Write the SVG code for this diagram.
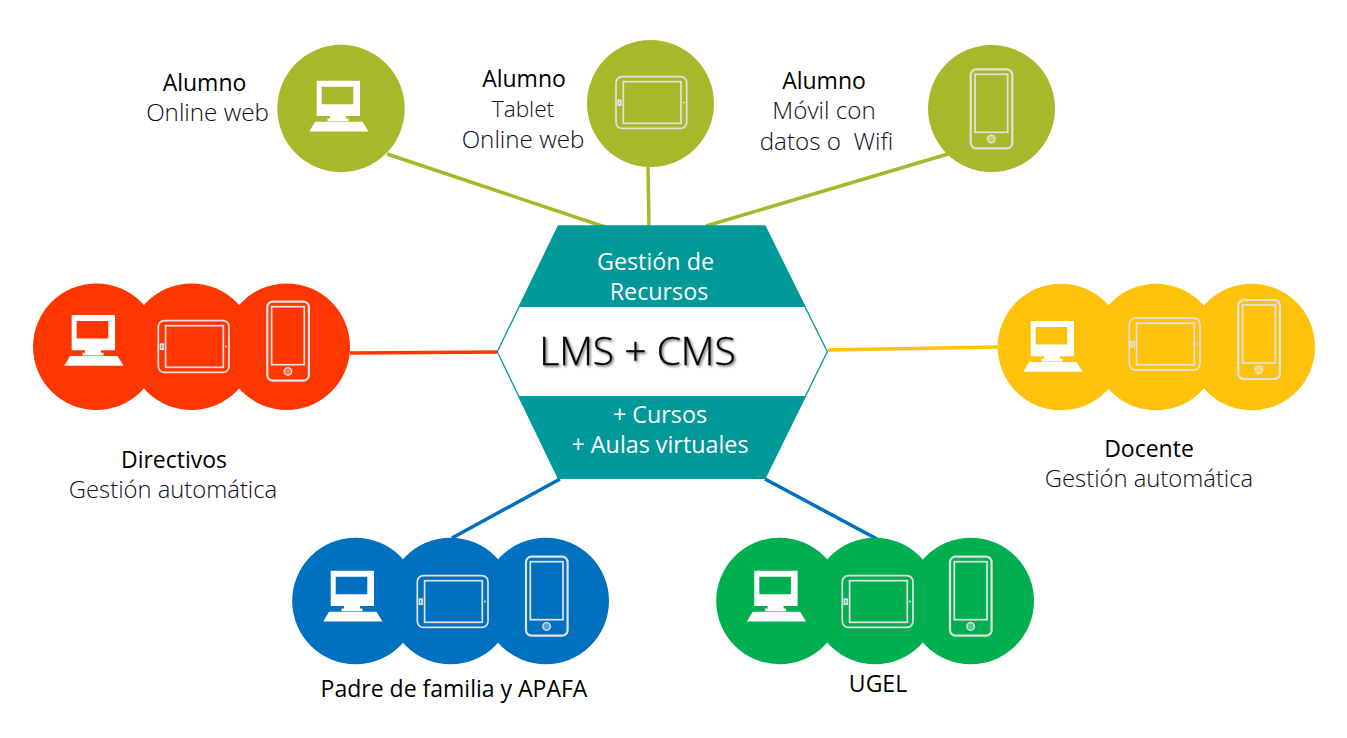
<svg xmlns="http://www.w3.org/2000/svg" width="1347" height="738" viewBox="0 0 1347 738">
<style>
text{font-family:"Open Sans","Noto Sans","Liberation Sans",sans-serif;text-anchor:middle;font-size:24.2px;font-weight:300;fill:#0c0c20}
.g{font-size:23.800px}
.n{font-size:22.600px}
.h{font-size:23px;font-weight:400;fill:#000}
.w{fill:#fff;font-size:23.300px;font-weight:400}
.lms{font-size:39px;font-weight:300;fill:#000;stroke:#000;stroke-width:.3;filter:url(#sh)}
.c{fill:none;stroke-width:3.5}
.s{fill:none;stroke:#e2e2e2;stroke-width:1.7}
.t{fill:none;stroke:#e2e2e2;stroke-width:2.2}
.olive{fill:#a7b92a}.red{fill:#ff3600}.yel{fill:#ffc20a}.blue{fill:#0070c0}.grn{fill:#00b050}
</style>
<defs>
<filter id="sh" x="-10%" y="-20%" width="120%" height="150%"><feDropShadow dx="1.500" dy="1.500" stdDeviation="1" flood-color="#000" flood-opacity=".6"/></filter>
<g id="pc"><path fill="#fff" fill-rule="evenodd" d="M-24.300-27.800H19V7.500H5V10H7.500V12.700H-13.500V10H-11V7.500H-24.300ZM-19.300-21.800V-4.200H12.300V-21.800Z"/><path fill="#fff" d="M-26 13.300H21.500L27.500 23H-31.700Z"/></g>
<g id="tab"><rect class="s" x="-34.500" y="-26.800" width="70.700" height="51.600" rx="6"/><rect class="s" x="-27.200" y="-21.800" width="57.700" height="41.600"/><rect class="s" x="-32.300" y="-3.300" width="2.600" height="5" fill="#e2e2e2"/><circle cx="33.200" cy="-1" r="1" fill="#e2e2e2"/></g>
<g id="ph"><rect class="t" x="-20.800" y="-39.200" width="41.600" height="79" rx="5.500"/><rect class="s" x="-16.500" y="-34.200" width="32.700" height="58"/><circle cx="-.2" cy="30.500" r="3.800" fill="#fff" fill-opacity=".35" stroke="#e2e2e2" stroke-width="1.400"/></g>
</defs>
<g id="connectors">
<path class="c" stroke="#a7b92a" d="M387 154L605 227M648 167L649 226M948 154L706 226"/>
<path class="c" stroke="#ff3600" d="M350 353L497 352"/>
<path class="c" stroke="#ffc20a" d="M828 350L998 347"/>
<path class="c" stroke="#0070c0" d="M560 479L452 538"/>
<path class="c" stroke="#0070c0" d="M765 479L877 539"/>
</g>
<g id="hub">
<path fill="#fff" stroke="#009999" stroke-width="1.300" d="M558.300 226H765L827.300 351.700L765 478.300H558.300L497.300 351.700Z"/>
<path fill="#009999" d="M558.300 226H765L805.100 307H519.100Z"/>
<path fill="#009999" d="M518.600 396H805.500L765 478.300H558.300Z"/>
<text class="w" x="655.500" y="269.500">Gestión de</text>
<text class="w" x="659" y="299.500">Recursos</text>
<text class="lms" x="637.500" y="365">LMS + CMS</text>
<text class="w" x="660" y="422.500">+ Cursos</text>
<text class="w" x="660" y="452.500">+ Aulas virtuales</text>
</g>
<g id="alumno-web"><circle class="olive" cx="341" cy="108.500" r="63.700"/><use href="#pc" x="341" y="108.500"/><text class="h" x="204.500" y="91">Alumno</text><text x="207.500" y="121">Online web</text></g>
<g id="alumno-tablet"><circle class="olive" cx="650.500" cy="103.500" r="63.500"/><use href="#tab" x="650.500" y="103.500"/><text class="h" x="524" y="87">Alumno</text><text class="n" x="523" y="117">Tablet</text><text x="523" y="148">Online web</text></g>
<g id="alumno-movil"><circle class="olive" cx="991.500" cy="108.500" r="63.500"/><use href="#ph" x="991.500" y="108.500"/><text class="h" x="824" y="89">Alumno</text><text x="824" y="119">Móvil con</text><text x="826.500" y="150" xml:space="preserve">datos o  Wifi</text></g>
<g id="directivos"><circle class="red" cx="96.300" cy="346.700" r="63.300"/><circle class="red" cx="191.500" cy="346.700" r="63.300"/><circle class="red" cx="286.700" cy="346.700" r="63.300"/><use href="#pc" x="96" y="342.800"/><use href="#tab" x="192.800" y="347.500"/><use href="#ph" x="288.100" y="340.900"/><text class="h" x="174" y="468">Directivos</text><text class="g" x="173" y="498">Gestión automática</text></g>
<g id="docente"><circle class="yel" cx="1061" cy="347" r="63.300"/><circle class="yel" cx="1156" cy="347" r="63.300"/><circle class="yel" cx="1251.700" cy="347" r="63.300"/><use href="#pc" x="1055" y="348.800"/><use href="#tab" x="1163.800" y="345"/><use href="#ph" x="1259.100" y="339.200"/><text class="h" x="1149" y="457">Docente</text><text class="g" x="1149" y="487">Gestión automática</text></g>
<g id="padre"><circle class="blue" cx="355.500" cy="601" r="63.300"/><circle class="blue" cx="450.500" cy="601" r="63.300"/><circle class="blue" cx="545.700" cy="601" r="63.300"/><use href="#pc" x="355" y="598.500"/><use href="#tab" x="451.800" y="602.500"/><use href="#ph" x="546.800" y="595.900"/><text class="h" x="454" y="697">Padre de familia y APAFA</text></g>
<g id="ugel"><circle class="grn" cx="779.500" cy="601" r="63.300"/><circle class="grn" cx="875" cy="601" r="63.300"/><circle class="grn" cx="970.700" cy="601" r="63.300"/><use href="#pc" x="778.600" y="598.500"/><use href="#tab" x="876.800" y="602.500"/><use href="#ph" x="970.800" y="595.900"/><text class="h" x="878" y="692">UGEL</text></g>
</svg>
